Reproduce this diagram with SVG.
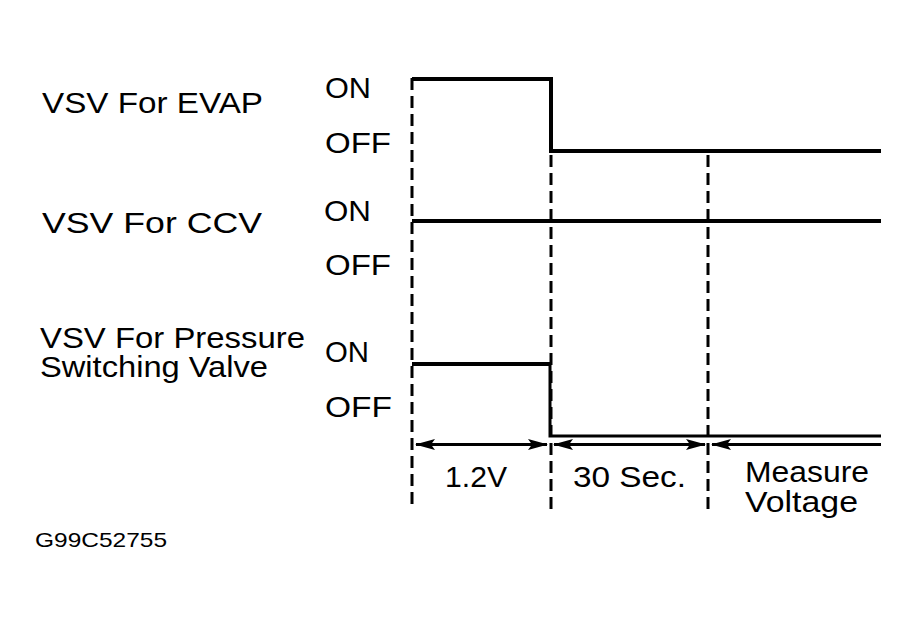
<svg xmlns="http://www.w3.org/2000/svg" width="918" height="624" viewBox="0 0 918 624">
<style>
text{font-family:"Liberation Sans",Arial,sans-serif;fill:#000;}
.lbl{font-size:29px;}
.st{font-size:29px;}
.sig{fill:none;stroke:#000;stroke-width:4;stroke-linejoin:miter;stroke-linecap:butt;}
.dash{fill:none;stroke:#000;stroke-width:3;stroke-dasharray:12 6;}
.dim{fill:none;stroke:#000;stroke-width:3;}
.ah{fill:#000;stroke:none;}
</style>
<defs>
<path id="arrowL" d="M0,0 L20,-5.5 L16,0 L20,5.5 Z"/>
<path id="arrowR" d="M0,0 L-20,-5.5 L-16,0 L-20,5.5 Z"/>
</defs>
<rect width="918" height="624" fill="#fff"/>
<g id="labels">
<text class="lbl" x="42" y="113" textLength="221" lengthAdjust="spacingAndGlyphs">VSV For EVAP</text>
<text class="lbl" x="42" y="233" textLength="220" lengthAdjust="spacingAndGlyphs">VSV For CCV</text>
<text class="lbl" x="40" y="348" textLength="265" lengthAdjust="spacingAndGlyphs">VSV For Pressure</text>
<text class="lbl" x="40" y="377" textLength="228" lengthAdjust="spacingAndGlyphs">Switching Valve</text>
</g>
<g id="states">
<text class="st" x="325" y="98" textLength="46" lengthAdjust="spacingAndGlyphs">ON</text>
<text class="st" x="325" y="153" textLength="66" lengthAdjust="spacingAndGlyphs">OFF</text>
<text class="st" x="324" y="221" textLength="47" lengthAdjust="spacingAndGlyphs">ON</text>
<text class="st" x="325" y="275" textLength="66" lengthAdjust="spacingAndGlyphs">OFF</text>
<text class="st" x="325" y="362" textLength="44" lengthAdjust="spacingAndGlyphs">ON</text>
<text class="st" x="325" y="417" textLength="67" lengthAdjust="spacingAndGlyphs">OFF</text>
</g>
<g id="guides">
<line class="dash" x1="412" y1="78" x2="412" y2="510"/>
<line class="dash" x1="551" y1="155" x2="551" y2="510"/>
<line class="dash" x1="708" y1="155" x2="708" y2="510"/>
</g>
<g id="signal-evap">
<polyline class="sig" points="412,79 551,79 551,151 881,151"/>
</g>
<g id="signal-ccv">
<line class="sig" x1="412" y1="221" x2="881" y2="221"/>
</g>
<g id="signal-pressure">
<polyline class="sig" points="412,364 550,364"/>
<polyline class="sig" style="stroke-width:3" points="550,364 550,436 881,436"/>
</g>
<g id="connectors">
<line class="dim" x1="416" y1="444.5" x2="547" y2="444.5"/>
<use href="#arrowL" class="ah" x="415" y="444.5"/>
<use href="#arrowR" class="ah" x="548" y="444.5"/>
<line class="dim" x1="554" y1="444.5" x2="705" y2="444.5"/>
<use href="#arrowL" class="ah" x="553" y="444.5"/>
<use href="#arrowR" class="ah" x="706" y="444.5"/>
<line class="dim" x1="712" y1="444.5" x2="881" y2="444.5"/>
<use href="#arrowL" class="ah" x="711" y="444.5"/>
</g>
<g id="intervals">
<text class="st" x="445" y="487" textLength="62" lengthAdjust="spacingAndGlyphs">1.2V</text>
<text class="st" x="573" y="487" textLength="113" lengthAdjust="spacingAndGlyphs">30 Sec.</text>
<text class="st" x="745" y="482" textLength="124" lengthAdjust="spacingAndGlyphs">Measure</text>
<text class="st" x="745" y="512" textLength="113" lengthAdjust="spacingAndGlyphs">Voltage</text>
</g>
<g id="caption">
<text x="35" y="547" style="font-size:21px" textLength="132" lengthAdjust="spacingAndGlyphs">G99C52755</text>
</g>
</svg>
